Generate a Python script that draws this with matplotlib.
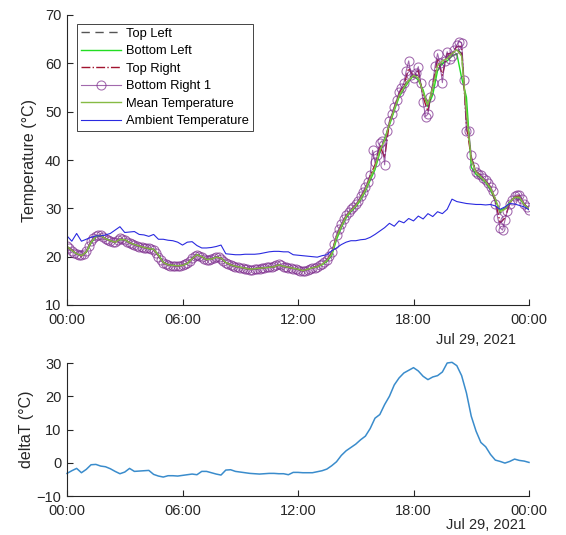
import numpy as np
import matplotlib
matplotlib.use("Agg")
import matplotlib.pyplot as plt

plt.rcParams['font.family'] = ['Liberation Sans', 'DejaVu Sans']

# most channels logged every 15 minutes, 28 Jul 2021 00:00 -> 29 Jul 00:00
hours = np.arange(97) * 0.25
# Bottom Right 1 logged every 7.5 minutes
hours_br = np.arange(193) * 0.125

top_left = [
    22.1, 21.3, 20.6, 20.2, 21.0, 23.0, 24.2, 24.4,
    23.7, 23.3, 23.0, 23.6, 23.5, 22.9, 22.5, 22.2,
    21.9, 21.7, 21.5, 20.3, 18.8, 18.3, 18.2, 18.1,
    18.2, 18.6, 19.6, 20.4, 20.0, 19.4, 19.5, 19.9,
    19.7, 18.8, 18.3, 18.0, 17.8, 17.6, 17.4, 17.5,
    17.6, 17.7, 17.8, 17.9, 18.3, 18.0, 17.8, 17.6,
    17.4, 17.1, 17.4, 17.7, 17.9, 18.4, 19.2, 20.6,
    24.1, 26.4, 28.3, 29.5, 30.5, 32.1, 33.9, 36.4,
    38.6, 42.2, 43.5, 47.6, 50.6, 53.4, 55.2, 57.0,
    57.5, 57.5, 53.8, 51.2, 55.2, 59.8, 59.8, 61.2,
    62.0, 63.0, 62.0, 49.0, 40.5, 37.6, 36.6, 35.6,
    34.3, 32.0, 29.0, 29.6, 31.2, 32.3, 32.4, 30.9,
    29.8,
]

bottom_left = [
    22.0, 21.3, 20.6, 20.2, 20.9, 22.8, 24.1, 24.4,
    23.7, 23.3, 23.0, 23.5, 23.5, 22.9, 22.5, 22.2,
    21.9, 21.6, 21.5, 20.4, 18.9, 18.4, 18.2, 18.1,
    18.2, 18.6, 19.5, 20.4, 20.0, 19.4, 19.5, 19.9,
    19.7, 18.8, 18.3, 18.0, 17.8, 17.6, 17.4, 17.5,
    17.6, 17.7, 17.8, 17.9, 18.3, 18.0, 17.8, 17.6,
    17.4, 17.1, 17.4, 17.7, 17.9, 18.3, 19.0, 20.2,
    23.5, 26.0, 28.0, 29.3, 30.3, 31.7, 33.5, 35.8,
    38.0, 41.5, 44.5, 47.2, 50.2, 53.0, 54.7, 56.2,
    57.5, 56.5, 54.5, 51.0, 53.5, 58.5, 60.0, 60.5,
    61.5, 62.0, 57.0, 53.0, 38.5, 37.0, 36.2, 35.3,
    33.8, 31.5, 29.6, 30.0, 31.3, 32.2, 32.1, 30.7,
    29.9,
]

top_right = [
    22.0, 21.4, 20.7, 20.1, 21.0, 23.1, 24.1, 24.3,
    23.7, 23.3, 23.0, 23.6, 23.5, 22.9, 22.5, 22.2,
    21.9, 21.7, 21.5, 20.2, 18.8, 18.3, 18.2, 18.1,
    18.2, 18.6, 19.6, 20.3, 20.0, 19.4, 19.5, 19.9,
    19.7, 18.8, 18.3, 18.0, 17.8, 17.6, 17.4, 17.5,
    17.6, 17.7, 17.8, 17.9, 18.2, 18.0, 17.8, 17.6,
    17.4, 17.1, 17.4, 17.7, 18.0, 18.5, 19.3, 20.8,
    24.3, 26.5, 28.4, 29.6, 30.6, 32.2, 34.0, 36.8,
    39.0, 43.0, 40.5, 47.8, 50.8, 53.8, 55.5, 59.0,
    57.3, 58.5, 53.0, 50.0, 55.5, 61.0, 57.5, 62.0,
    62.0, 63.5, 63.5, 47.0, 40.5, 37.6, 36.8, 35.7,
    34.4, 31.5, 27.0, 28.0, 31.0, 32.4, 32.6, 30.9,
    29.7,
]

bottom_right_1 = [
    22.2, 21.7, 21.2, 20.8, 20.5, 20.3, 20.3, 20.6,
    21.2, 22.3, 23.3, 23.9, 24.3, 24.5, 24.5, 24.1,
    23.6, 23.4, 23.2, 23.1, 23.1, 23.5, 23.8, 23.7,
    23.4, 23.1, 22.8, 22.6, 22.4, 22.2, 22.1, 22.0,
    21.8, 21.8, 21.8, 21.6, 21.4, 20.8, 20.0, 19.3,
    18.7, 18.4, 18.2, 18.1, 18.1, 18.0, 18.0, 18.1,
    18.3, 18.5, 18.7, 19.2, 19.8, 20.2, 20.4, 20.2,
    19.9, 19.6, 19.3, 19.4, 19.6, 19.8, 20.0, 19.9,
    19.6, 19.1, 18.7, 18.4, 18.2, 18.0, 17.9, 17.8,
    17.7, 17.6, 17.5, 17.4, 17.3, 17.3, 17.4, 17.4,
    17.5, 17.6, 17.7, 17.8, 17.9, 17.9, 18.0, 18.2,
    18.4, 18.2, 17.9, 17.8, 17.7, 17.6, 17.5, 17.4,
    17.3, 17.1, 17.0, 17.1, 17.3, 17.5, 17.6, 17.7,
    17.9, 18.2, 18.5, 18.9, 19.4, 20.1, 21.0, 22.6,
    24.5, 25.8, 26.8, 27.8, 28.6, 29.2, 29.8, 30.3,
    30.8, 31.6, 32.5, 33.4, 34.5, 35.4, 37.0, 42.0,
    39.5, 41.0, 43.5, 44.0, 39.0, 46.0, 48.0, 49.5,
    51.0, 52.5, 54.0, 55.0, 56.0, 58.5, 60.5, 57.5,
    57.0, 58.0, 59.3, 56.0, 52.0, 49.0, 49.5, 53.0,
    56.0, 59.5, 62.0, 60.0, 56.0, 60.5, 62.4, 61.0,
    61.5, 62.8, 63.8, 64.5, 64.3, 56.6, 46.0, 45.9,
    41.0, 38.5, 37.5, 37.2, 37.0, 36.3, 35.8, 35.2,
    34.5, 33.5, 31.0, 28.0, 26.0, 25.5, 27.5, 29.5,
    31.0, 31.8, 32.5, 32.8, 32.8, 32.0, 31.0, 30.3,
    29.7,
]

mean_temp = [
    22.1, 21.3, 20.6, 20.2, 21.0, 23.0, 24.2, 24.4,
    23.7, 23.3, 23.0, 23.6, 23.5, 22.9, 22.5, 22.2,
    21.9, 21.7, 21.5, 20.3, 18.8, 18.3, 18.2, 18.1,
    18.2, 18.6, 19.6, 20.4, 20.0, 19.4, 19.5, 19.9,
    19.7, 18.8, 18.3, 18.0, 17.8, 17.6, 17.4, 17.5,
    17.6, 17.7, 17.8, 17.9, 18.3, 18.0, 17.8, 17.6,
    17.4, 17.1, 17.4, 17.7, 17.9, 18.4, 19.2, 20.5,
    24.0, 26.3, 28.3, 29.5, 30.5, 32.0, 33.8, 36.3,
    38.5, 42.0, 44.0, 47.5, 50.5, 53.3, 55.0, 56.5,
    57.5, 57.0, 54.0, 51.5, 55.0, 59.5, 60.5, 61.0,
    62.0, 62.8, 61.5, 50.0, 40.0, 37.5, 36.5, 35.5,
    34.2, 32.0, 29.3, 29.8, 31.2, 32.3, 32.3, 30.8,
    29.8,
]

ambient = [
    24.3, 23.2, 24.8, 23.2, 23.6, 24.0, 24.3, 24.3,
    24.5, 24.8, 25.5, 26.2, 25.0, 25.1, 25.2, 24.6,
    24.5, 24.2, 24.6, 23.6, 23.6, 23.4, 23.3, 23.0,
    22.4, 23.0, 23.1, 22.3, 21.8, 21.8, 21.9, 22.1,
    22.4, 20.6, 20.5, 20.4, 20.4, 20.5, 20.5, 20.5,
    20.6, 20.8, 21.0, 21.1, 21.1, 21.0, 21.0, 20.4,
    20.3, 20.2, 20.1, 20.0, 19.9, 20.2, 20.4, 21.2,
    21.8, 22.5, 23.0, 23.3, 23.3, 23.5, 23.6, 24.0,
    24.6, 25.3, 26.0, 26.9, 26.3, 27.4, 27.0, 27.9,
    27.4, 28.4, 27.8, 28.9, 28.3, 29.3, 28.9, 29.8,
    31.9, 31.4, 31.2, 31.0, 30.9, 30.8, 30.8, 30.7,
    30.8, 30.5, 29.8, 30.3, 31.0, 30.9, 30.6, 30.3,
    29.7,
]

delta_t = [
    -3.2, -2.4, -1.7, -3.0, -2.0, -0.6, -0.5, -1.0,
    -1.2, -1.8, -2.6, -3.3, -2.8, -1.7, -2.6, -2.5,
    -2.4, -2.3, -3.5, -4.0, -4.3, -3.9, -3.9, -4.0,
    -3.8, -3.6, -3.4, -3.6, -2.6, -2.6, -3.0, -3.4,
    -3.7, -2.2, -2.1, -2.6, -2.8, -3.0, -3.2, -3.3,
    -3.4, -3.3, -3.2, -3.2, -3.3, -3.3, -3.6, -2.9,
    -2.9, -3.0, -3.0, -3.0, -2.7, -2.4, -1.9, -0.9,
    0.3, 2.2, 3.6, 4.6, 5.6, 6.9, 8.0, 10.3,
    13.4, 14.5, 17.5, 20.0, 23.4, 25.5, 27.0, 27.8,
    28.6, 27.6, 26.0, 25.0, 25.8, 26.2, 27.3, 30.0,
    30.2, 29.2, 26.2, 21.0, 14.0, 9.5, 6.1, 4.8,
    2.5, 0.8, 0.4, -0.1, 0.4, 1.1, 0.7, 0.5,
    0.1,
]

xtick_pos = [0, 6, 12, 18, 24]
xtick_labels = ['00:00', '06:00', '12:00', '18:00', '00:00']

ink = '#262626'

fig = plt.figure(figsize=(5.66, 5.35), dpi=100)
ax1 = fig.add_axes([67/566, 1 - 305/535, 462/566, 290/535])
ax2 = fig.add_axes([67/566, 1 - 496/535, 462/566, 133/535])

ax1.plot(hours, top_left, ls=(0, (6, 4)), color='#555555', lw=1.0, label='Top Left')
ax1.plot(hours, bottom_left, color='#22dd22', lw=1.0, label='Bottom Left')
ax1.plot(hours, top_right, ls='-.', color='#a2142f', lw=1.0, label='Top Right')
ax1.plot(hours_br, bottom_right_1, color='#7e2f8e', lw=0.8, marker='o', ms=6.5,
         mfc='none', mec='#7e2f8e', mew=0.75, alpha=0.72, label='Bottom Right 1')
ax1.plot(hours, mean_temp, color='#86bb44', lw=1.0, label='Mean Temperature')
ax1.plot(hours, ambient, color='#2a2ae0', lw=0.8, label='Ambient Temperature')

ax2.plot(hours, delta_t, color='#3a8ccc', lw=1.1, clip_on=False)

for ax in (ax1, ax2):
    ax.set_xlim(0, 24)
    ax.set_xticks(xtick_pos)
    ax.set_xticklabels(xtick_labels)
    for s in ('top', 'right'):
        ax.spines[s].set_visible(False)
    for s in ('left', 'bottom'):
        ax.spines[s].set_color(ink)
        ax.spines[s].set_linewidth(0.8)
    ax.tick_params(direction='in', length=4, width=0.8, colors=ink,
                   labelsize=10.5, pad=6)
    ax.tick_params(axis='y', pad=4)

ax1.set_ylim(10, 70)
ax1.set_yticks(range(10, 71, 10))
ax1.set_ylabel('Temperature (°C)', fontsize=11.5, color=ink, labelpad=6)

ax2.set_ylim(-10, 30)
ax2.set_yticks(range(-10, 31, 10))
ax2.set_ylabel('deltaT (°C)', fontsize=11.5, color=ink, labelpad=2)

leg = ax1.legend(loc='upper left', bbox_to_anchor=(0.021, 0.969), borderaxespad=0,
                 fontsize=9.3, handlelength=3.1, handletextpad=0.45,
                 labelspacing=0.42, borderpad=0.3, fancybox=False, framealpha=1)
leg.get_frame().set_edgecolor(ink)
leg.get_frame().set_linewidth(0.6)

fig.text(476/566, 1 - 340/535, 'Jul 29, 2021', ha='center', va='center',
         fontsize=10.5, color=ink)
fig.text(486/566, 1 - 525/535, 'Jul 29, 2021', ha='center', va='center',
         fontsize=10.5, color=ink)

fig.savefig('out.png', dpi=100)
